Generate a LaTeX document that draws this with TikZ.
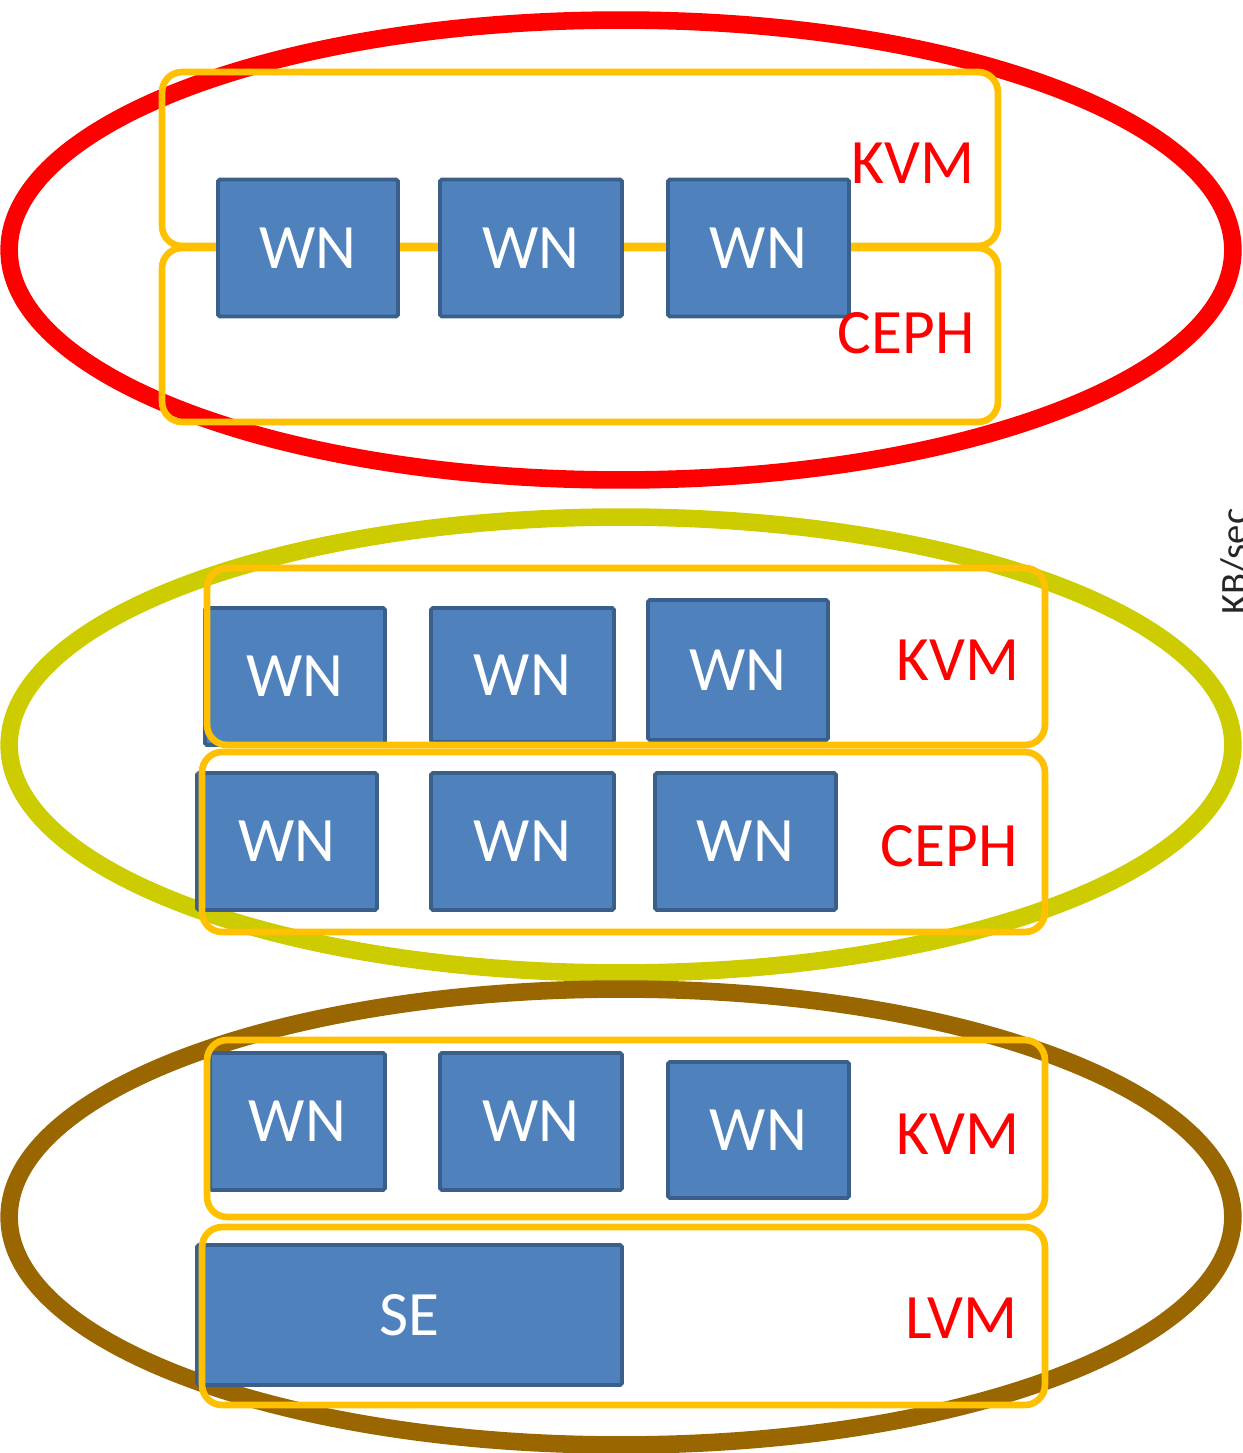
\documentclass[tikz,border=0pt]{standalone}
\usepackage{fontspec}
\setmainfont{Carlito}
\usetikzlibrary{shapes.geometric}
\definecolor{wnblue}{HTML}{4F81BD}
\definecolor{wnedge}{HTML}{3A5F8B}
\definecolor{layer}{HTML}{FFC000}
\definecolor{olive}{HTML}{CCCC00}
\definecolor{brownish}{HTML}{996600}
\tikzset{
    site/.style={ellipse, draw, line width=10pt, minimum width=24.48cm,
                 minimum height=9.12cm, inner sep=0pt},
    layerbox/.style={rectangle, draw=layer, line width=3.8pt, rounded corners=0.4cm,
                     minimum width=16.76cm, minimum height=3.54cm, inner sep=0pt},
    wnbox/.style={rectangle, draw=wnedge, fill=wnblue, line width=2.2pt, rounded corners=1pt,
                  minimum width=3.6cm, minimum height=2.74cm, inner sep=0pt,
                  text=white, font=\fontsize{36}{36}\selectfont},
    tag/.style={anchor=base east, inner sep=0pt, text=red, font=\fontsize{36}{36}\selectfont},
}

\begin{document}
\begin{tikzpicture}[x=0.02cm, y=-0.02cm]

    \clip (0,0) rectangle (1243,1453);

    % ── Site 1: KVM + CEPH on the same nodes ───────────────────────
    \node[site, draw=red, minimum height=9.2cm] (site1) at (621, 250) {};
    \node[layerbox, minimum width=16.72cm, minimum height=3.48cm] (kvmbox1) at (580, 159) {};
    \node[layerbox, minimum width=16.72cm, minimum height=3.48cm] (cephbox1) at (580, 335) {};
    \node[wnbox] (wn11) at (308, 248) {WN};
    \node[wnbox, minimum width=3.64cm] (wn12) at (531, 248) {WN};
    \node[wnbox, minimum width=3.62cm] (wn13) at (758.5, 248) {WN};
    \node[tag] (kvm1) at (975, 184) {KVM};
    \node[tag] (ceph1) at (975, 353) {CEPH};

    % ── Site 2: KVM and CEPH on separate nodes ─────────────────────
    \node[site, draw=olive] (site2) at (621, 745) {};
    \node[wnbox] (wn21) at (295, 676.5) {WN};
    \node[wnbox, minimum width=3.66cm, minimum height=2.68cm] (wn22) at (522.5, 675) {WN};
    \node[wnbox, minimum height=2.8cm] (wn23) at (738, 670) {WN};
    \node[wnbox] (wn24) at (287, 841.5) {WN};
    \node[wnbox, minimum width=3.66cm] (wn25) at (522.5, 841.5) {WN};
    \node[wnbox, minimum width=3.62cm] (wn26) at (745.5, 841.5) {WN};
    \node[layerbox] (kvmbox2) at (626, 656.5) {};
    \node[layerbox, minimum width=16.86cm, minimum height=3.6cm] (cephbox2) at (623.5, 842) {};
    \node[tag] (kvm2) at (1020, 680) {KVM};
    \node[tag] (ceph2) at (1018, 866) {CEPH};

    % ── Site 3: KVM nodes + SE on LVM ──────────────────────────────
    \node[site, draw=brownish] (site3) at (621, 1217) {};
    \node[wnbox, minimum width=3.5cm] (wn31) at (297.5, 1121.5) {WN};
    \node[wnbox, minimum width=3.64cm] (wn32) at (531, 1121.5) {WN};
    \node[wnbox, minimum width=3.62cm, minimum height=2.72cm] (wn33) at (758.5, 1130) {WN};
    \node[wnbox, minimum width=8.5cm, minimum height=2.8cm] (se) at (409.5, 1315) {SE};
    \node[layerbox] (kvmbox3) at (626, 1128.5) {};
    \node[layerbox, minimum width=16.86cm, minimum height=3.56cm] (lvmbox3) at (623.5, 1316) {};
    \node[tag] (kvm3) at (1020, 1154) {KVM};
    \node[tag] (lvm3) at (1018, 1338) {LVM};

    % axis label cut by the right edge
    \node[rotate=90, anchor=base west, inner sep=0pt, text=black!85,
          font=\fontsize{22}{22}\selectfont] (unit) at (1247, 615) {KB/sec};

\end{tikzpicture}
\end{document}
